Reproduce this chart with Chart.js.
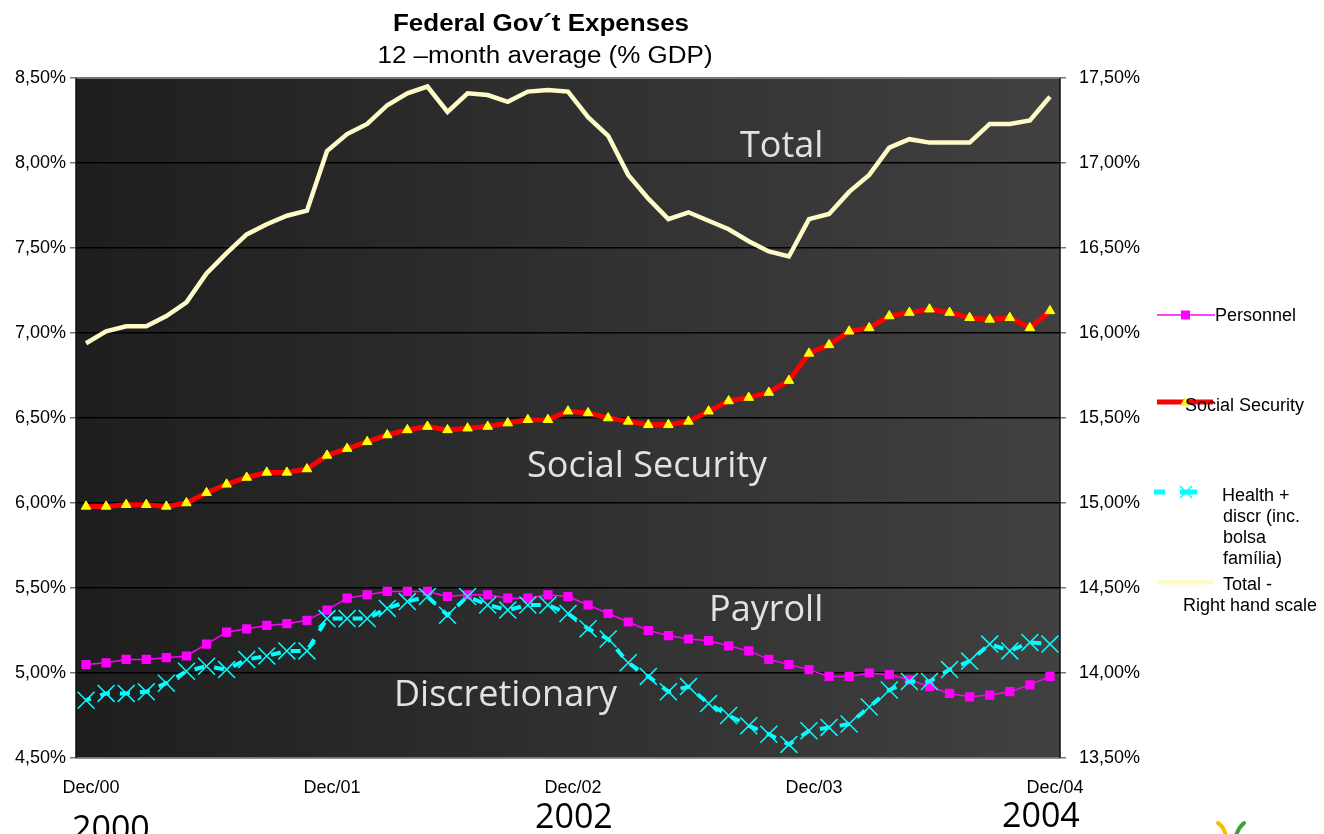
<!DOCTYPE html>
<html lang="en">
<head>
<meta charset="UTF-8">
<title>Federal Gov´t Expenses</title>
<script src="https://cdn.jsdelivr.net/npm/chart.js"></script>
<style>
  html, body { margin: 0; padding: 0; background: #fff; }
  #wrap { position: relative; width: 1324px; height: 834px; }
</style>
</head>
<body>
<div id="wrap"><canvas id="chart"></canvas></div>
<script>
// monthly, Dec/00 .. Dec/04
const months = [
  'Dec/00','Jan/01','Feb/01','Mar/01','Apr/01','May/01','Jun/01','Jul/01','Aug/01','Sep/01','Oct/01','Nov/01',
  'Dec/01','Jan/02','Feb/02','Mar/02','Apr/02','May/02','Jun/02','Jul/02','Aug/02','Sep/02','Oct/02','Nov/02',
  'Dec/02','Jan/03','Feb/03','Mar/03','Apr/03','May/03','Jun/03','Jul/03','Aug/03','Sep/03','Oct/03','Nov/03',
  'Dec/03','Jan/04','Feb/04','Mar/04','Apr/04','May/04','Jun/04','Jul/04','Aug/04','Sep/04','Oct/04','Nov/04',
  'Dec/04'
];

// % GDP, left scale
const personnel = [5.05,5.06,5.08,5.08,5.09,5.10,5.17,5.24,5.26,5.28,5.29,5.31,
  5.37,5.44,5.46,5.48,5.48,5.48,5.45,5.46,5.46,5.44,5.44,5.46,
  5.45,5.40,5.35,5.30,5.25,5.22,5.20,5.19,5.16,5.13,5.08,5.05,
  5.02,4.98,4.98,5.00,4.99,4.96,4.92,4.88,4.86,4.87,4.89,4.93,
  4.98];
const socialSecurity = [5.98,5.98,5.99,5.99,5.98,6.00,6.06,6.11,6.15,6.18,6.18,6.20,
  6.28,6.32,6.36,6.40,6.43,6.45,6.43,6.44,6.45,6.47,6.49,6.49,
  6.54,6.53,6.50,6.48,6.46,6.46,6.48,6.54,6.60,6.62,6.65,6.72,
  6.88,6.93,7.01,7.03,7.10,7.12,7.14,7.12,7.09,7.08,7.09,7.03,
  7.13];
const healthDiscr = [4.84,4.88,4.88,4.89,4.94,5.01,5.04,5.02,5.08,5.10,5.13,5.13,
  5.32,5.32,5.32,5.38,5.42,5.45,5.34,5.45,5.40,5.37,5.40,5.40,
  5.35,5.26,5.20,5.06,4.98,4.89,4.92,4.82,4.75,4.69,4.64,4.58,
  4.66,4.68,4.70,4.80,4.90,4.95,4.95,5.02,5.07,5.17,5.13,5.18,
  5.17];
// % GDP, right scale
const totalRhs = [15.94,16.01,16.04,16.04,16.10,16.18,16.35,16.47,16.58,16.64,16.69,16.72,
  17.07,17.17,17.23,17.34,17.41,17.45,17.30,17.41,17.40,17.36,17.42,17.43,
  17.42,17.27,17.16,16.93,16.79,16.67,16.71,16.66,16.61,16.54,16.48,16.45,
  16.67,16.70,16.83,16.93,17.09,17.14,17.12,17.12,17.12,17.23,17.23,17.25,
  17.39];

const leftRange = [4.5, 8.5];
const rightRange = [13.5, 17.5];
const tickStep = 0.5;

const pct = v => v.toFixed(2).replace('.', ',') + '%';

Chart.defaults.font.family = '"Liberation Sans", Arial, sans-serif';
Chart.defaults.font.size = 18;
Chart.defaults.color = '#000';

const decor = {
  id: 'decor',
  beforeDraw(chart) {
    const { ctx, chartArea: a } = chart;
    const g = ctx.createLinearGradient(a.left, 0, a.right, 0);
    g.addColorStop(0, '#1e1e1e');
    g.addColorStop(1, '#414141');
    ctx.save();
    ctx.fillStyle = g;
    ctx.fillRect(a.left, a.top, a.right - a.left, a.bottom - a.top);
    ctx.restore();
  },
  afterDraw(chart) {
    const { ctx, chartArea: a } = chart;
    ctx.save();
    // frame
    ctx.lineWidth = 1.5;
    ctx.strokeStyle = '#9a9a9a';
    ctx.beginPath();
    ctx.moveTo(a.left, a.top); ctx.lineTo(a.right, a.top);
    ctx.moveTo(a.left, a.bottom); ctx.lineTo(a.right, a.bottom);
    ctx.stroke();
    ctx.strokeStyle = '#111';
    ctx.beginPath();
    ctx.moveTo(a.left, a.top); ctx.lineTo(a.left, a.bottom);
    ctx.moveTo(a.right, a.top); ctx.lineTo(a.right, a.bottom);
    ctx.stroke();

    // labels inside the plot
    ctx.fillStyle = '#e2e2e2';
    ctx.font = '36px "Open Sans", sans-serif';
    ctx.textAlign = 'left';
    ctx.textBaseline = 'alphabetic';
    ctx.fillText('Total', 740, 157);
    ctx.fillText('Social Security', 527, 477);
    ctx.fillText('Payroll', 709, 621);
    ctx.fillText('Discretionary', 394, 706);

    // title
    ctx.fillStyle = '#000';
    ctx.textAlign = 'center';
    ctx.save();
    ctx.translate(541, 31);
    ctx.scale(1.13, 1);
    ctx.font = 'bold 23px "Liberation Sans", Arial, sans-serif';
    ctx.fillText('Federal Gov´t Expenses', 0, 0);
    ctx.restore();
    ctx.save();
    ctx.translate(545, 63);
    ctx.scale(1.13, 1);
    ctx.font = '23px "Liberation Sans", Arial, sans-serif';
    ctx.fillText('12 –month average (% GDP)', 0, 0);
    ctx.restore();

    // years
    ctx.font = '34px "Open Sans", sans-serif';
    ctx.textAlign = 'left';
    ctx.fillText('2000', 72, 840);
    ctx.fillText('2002', 535, 828);
    ctx.fillText('2004', 1002, 827);

    // legend
    ctx.font = '18px "Liberation Sans", Arial, sans-serif';
    ctx.textBaseline = 'middle';
    // Personnel
    ctx.strokeStyle = '#ff00ff';
    ctx.lineWidth = 1.5;
    ctx.beginPath(); ctx.moveTo(1157, 315); ctx.lineTo(1215, 315); ctx.stroke();
    ctx.fillStyle = '#ff00ff';
    ctx.fillRect(1181, 310.5, 9, 9);
    ctx.fillStyle = '#000';
    ctx.fillText('Personnel', 1215, 316);
    // Social Security
    ctx.strokeStyle = '#ff0000';
    ctx.lineWidth = 5;
    ctx.beginPath(); ctx.moveTo(1157, 402); ctx.lineTo(1213, 402); ctx.stroke();
    ctx.fillStyle = '#ffff00';
    ctx.beginPath(); ctx.moveTo(1185, 397); ctx.lineTo(1190, 406); ctx.lineTo(1180, 406); ctx.closePath(); ctx.fill();
    ctx.fillStyle = '#000';
    ctx.fillText('Social Security', 1185, 406);
    // Health
    ctx.strokeStyle = '#00ffff';
    ctx.lineWidth = 5;
    ctx.beginPath();
    ctx.moveTo(1154, 492); ctx.lineTo(1165, 492);
    ctx.moveTo(1180, 492); ctx.lineTo(1197, 492);
    ctx.stroke();
    ctx.lineWidth = 1.5;
    ctx.beginPath();
    ctx.moveTo(1180, 486); ctx.lineTo(1192, 498);
    ctx.moveTo(1192, 486); ctx.lineTo(1180, 498);
    ctx.stroke();
    ctx.fillStyle = '#000';
    ctx.fillText('Health +', 1222, 496);
    ctx.fillText(' discr (inc.', 1218, 517);
    ctx.fillText('bolsa', 1223, 538);
    ctx.fillText('família)', 1223, 559);
    // Total
    ctx.strokeStyle = '#fdfbc8';
    ctx.lineWidth = 5;
    ctx.beginPath(); ctx.moveTo(1157, 582); ctx.lineTo(1214, 582); ctx.stroke();
    ctx.fillText('Total -', 1223, 585);
    ctx.fillText('Right hand scale', 1183, 606);

    // small logo
    ctx.lineCap = 'round';
    ctx.lineWidth = 4;
    ctx.strokeStyle = '#f2c200';
    ctx.beginPath(); ctx.moveTo(1218, 823); ctx.quadraticCurveTo(1224, 827, 1226, 836); ctx.stroke();
    ctx.strokeStyle = '#3aa535';
    ctx.beginPath(); ctx.moveTo(1244, 823); ctx.quadraticCurveTo(1238, 828, 1236, 836); ctx.stroke();
    ctx.restore();
  }
};

new Chart(document.getElementById('chart'), {
  type: 'line',
  data: {
    labels: months,
    datasets: [
      {
        label: 'Health + discr (inc. bolsa família)',
        data: healthDiscr,
        yAxisID: 'y',
        borderColor: '#00ffff',
        borderWidth: 4,
        borderDash: [10, 10],
        borderDashOffset: 5,
        pointStyle: 'crossRot',
        pointRadius: 12,
        pointBorderColor: '#00ffff',
        pointBackgroundColor: '#00ffff',
        pointBorderWidth: 1.5
      },
      {
        label: 'Personnel',
        data: personnel,
        yAxisID: 'y',
        borderColor: '#ff00ff',
        borderWidth: 1.5,
        pointStyle: 'rect',
        pointRadius: 6.5,
        pointBackgroundColor: '#ff00ff',
        pointBorderColor: '#ff00ff',
        pointBorderWidth: 0
      },
      {
        label: 'Social Security',
        data: socialSecurity,
        yAxisID: 'y',
        borderColor: '#ff0000',
        borderWidth: 5,
        pointStyle: 'triangle',
        pointRadius: 5.5,
        pointBackgroundColor: '#ffff00',
        pointBorderColor: '#ffff00',
        pointBorderWidth: 1
      },
      {
        label: 'Total - Right hand scale',
        data: totalRhs,
        yAxisID: 'y1',
        borderColor: '#fdfbc8',
        borderWidth: 4.5,
        pointRadius: 0
      }
    ]
  },
  options: {
    responsive: true,
    maintainAspectRatio: false,
    animation: false,
    layout: { padding: { top: 78, left: 0, right: 0, bottom: 0 } },
    plugins: { legend: { display: false }, tooltip: { enabled: false }, title: { display: false } },
    elements: { line: { tension: 0 } },
    scales: {
      x: {
        type: 'category',
        offset: true,
        grid: { display: false, drawTicks: false },
        border: { display: false },
        ticks: {
          autoSkip: false,
          maxRotation: 0,
          padding: 19,
          labelOffset: 5,
          callback: function (v) {
            const l = this.getLabelForValue(v);
            return l.startsWith('Dec') ? l : '';
          }
        },
        afterFit: s => { s.height = 76; }
      },
      y: {
        position: 'left',
        min: leftRange[0],
        max: leftRange[1],
        ticks: { stepSize: tickStep, padding: 4, callback: v => pct(v) },
        grid: { color: '#000', lineWidth: 1.5, tickLength: 6, tickColor: '#777' },
        border: { display: false },
        afterFit: s => { s.width = 76; }
      },
      y1: {
        position: 'right',
        min: rightRange[0],
        max: rightRange[1],
        ticks: { stepSize: tickStep, padding: 13, callback: v => pct(v) },
        grid: { drawOnChartArea: false, tickLength: 6, tickColor: '#777', lineWidth: 1.5 },
        border: { display: false },
        afterFit: s => { s.width = 264; }
      }
    }
  },
  plugins: [decor]
});
</script>
</body>
</html>
